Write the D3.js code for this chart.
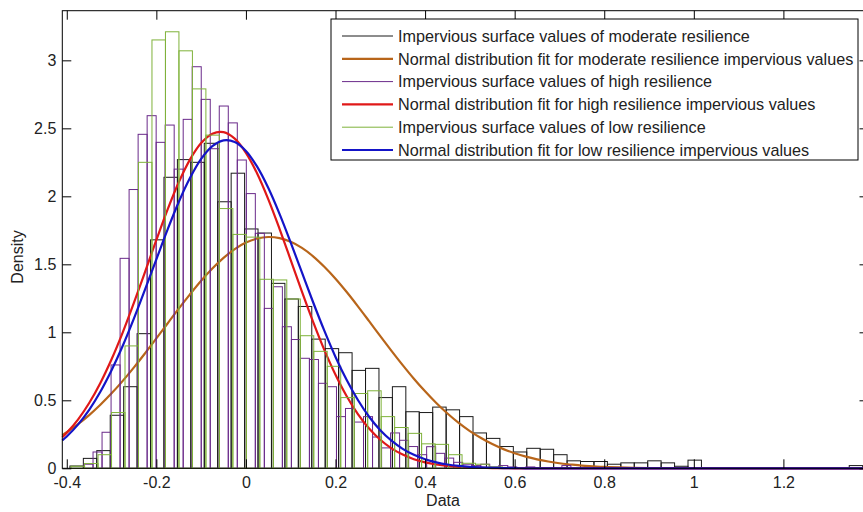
<!DOCTYPE html>
<html>
<head>
<meta charset="utf-8">
<script src="https://cdn.jsdelivr.net/npm/d3@7"></script>
<style>
  body { margin: 0; background: #fff; }
  svg { display: block; font-family: "Liberation Sans", Arial, Helvetica, sans-serif; }
</style>
</head>
<body>
<div id="chart"></div>
<script>
// Histogram bins (density)
var moderateStart = -0.393, moderateWidth = 0.0300;
var moderateDensity = [0.017, 0.073, 0.13, 0.39, 0.60, 0.99, 1.68, 2.14, 2.27, 2.25,
    2.39, 1.96, 2.17, 1.76, 1.73, 1.36, 1.245, 1.19, 0.95, 0.88,
    0.85, 0.72, 0.735, 0.52, 0.60, 0.416, 0.41, 0.45, 0.43, 0.38,
    0.26, 0.22, 0.16, 0.12, 0.147, 0.14, 0.10, 0.055, 0.05, 0.05,
    0.03, 0.04, 0.04, 0.055, 0.04, 0.015, 0.06, 0, 0, 0,
    0, 0, 0, 0, 0, 0, 0, 0, 0.02];

var highStart = -0.3615, highWidth = 0.02013;
var highDensity = [0.03, 0.12, 0.265, 0.76, 1.544, 2.05, 2.456, 2.593, 2.397, 2.524,
    2.20, 2.566, 2.953, 2.713, 2.35, 2.664, 2.54, 2.267, 2.02, 1.728,
    1.176, 1.335, 1.041, 0.947, 0.809, 0.80, 0.625, 0.60, 0.38, 0.44,
    0.34, 0.38, 0.23, 0.15, 0.26, 0.206, 0.16, 0.10, 0.159, 0.11,
    0.075, 0.044, 0.03, 0.02, 0.03, 0.01, 0.02, 0.01, 0, 0.01,
    0, 0, 0, 0.02];

var lowStart = -0.3904, lowWidth = 0.0301;
var lowDensity = [0.015, 0.035, 0.10, 0.41, 0.90, 2.25, 3.15, 3.21, 3.07, 2.79,
    2.45, 1.91, 1.72, 1.70, 1.39, 1.385, 1.245, 0.975, 0.86, 0.75,
    0.52, 0.55, 0.57, 0.38, 0.30, 0.257, 0.18, 0.176, 0.10, 0.037,
    0.03, 0.01];

// Normal fit curves
var fitX = [-0.41, -0.4, -0.375, -0.35, -0.325, -0.3, -0.275, -0.25, -0.225, -0.2,
    -0.175, -0.15, -0.125, -0.1, -0.075, -0.05, -0.025, 0, 0.025, 0.05,
    0.075, 0.1, 0.125, 0.15, 0.175, 0.2, 0.225, 0.25, 0.275, 0.3,
    0.325, 0.35, 0.375, 0.4, 0.425, 0.45, 0.475, 0.5, 0.525, 0.55,
    0.575, 0.6, 0.625, 0.65, 0.675, 0.7, 0.725, 0.75, 0.775, 0.8,
    0.85, 0.9, 1.0, 1.1, 1.2, 1.3, 1.39];
var fitModerate = [0.244, 0.265, 0.324, 0.391, 0.467, 0.551, 0.643, 0.742, 0.847, 0.955,
    1.065, 1.174, 1.279, 1.379, 1.469, 1.547, 1.612, 1.660, 1.690, 1.701,
    1.693, 1.666, 1.621, 1.559, 1.482, 1.394, 1.296, 1.191, 1.082, 0.972,
    0.864, 0.759, 0.659, 0.566, 0.480, 0.403, 0.334, 0.274, 0.223, 0.178,
    0.141, 0.111, 0.086, 0.066, 0.050, 0.037, 0.028, 0.020, 0.015, 0.010,
    0.005, 0.002, 0.001, 0, 0, 0, 0];
var fitHigh = [0.228, 0.261, 0.358, 0.480, 0.628, 0.802, 1.000, 1.218, 1.447, 1.679,
    1.902, 2.103, 2.270, 2.392, 2.461, 2.472, 2.424, 2.320, 2.168, 1.978,
    1.761, 1.531, 1.299, 1.077, 0.871, 0.688, 0.530, 0.399, 0.293, 0.210,
    0.147, 0.101, 0.067, 0.044, 0.028, 0.017, 0.010, 0.006, 0.004, 0.002,
    0.001, 0, 0, 0, 0, 0, 0, 0, 0, 0,
    0, 0, 0, 0, 0, 0, 0];
var fitLow = [0.205, 0.234, 0.321, 0.430, 0.563, 0.721, 0.901, 1.102, 1.317, 1.537,
    1.755, 1.958, 2.134, 2.275, 2.369, 2.412, 2.400, 2.334, 2.218, 2.061,
    1.871, 1.660, 1.440, 1.221, 1.012, 0.819, 0.649, 0.502, 0.379, 0.280,
    0.203, 0.143, 0.099, 0.067, 0.044, 0.028, 0.018, 0.011, 0.007, 0.004,
    0.002, 0.001, 0, 0, 0, 0, 0, 0, 0, 0,
    0, 0, 0, 0, 0, 0, 0];

var xTicks = [-0.4, -0.2, 0, 0.2, 0.4, 0.6, 0.8, 1, 1.2];
var yTicks = [0, 0.5, 1, 1.5, 2, 2.5, 3];

var legendLabels = [
    "Impervious surface values of moderate resilience",
    "Normal distribution fit for moderate resilience impervious values",
    "Impervious surface values of high resilience",
    "Normal distribution fit for high resilience impervious values",
    "Impervious surface values of low resilience",
    "Normal distribution fit for low resilience impervious values"
];

var width = 863, height = 512;
var colors = {
    moderate: "#1a1a1a", moderateFit: "#b8651a",
    high: "#6a2a8a", highFit: "#e01818",
    low: "#7fb23a", lowFit: "#1414c8"
};

var svg = d3.select("#chart").append("svg")
    .attr("width", width)
    .attr("height", height);

svg.append("rect").attr("width", width).attr("height", height).attr("fill", "#fff");

var x = d3.scaleLinear().domain([-0.41, 1.39]).range([62.3, 868.5]);
var y = d3.scaleLinear().domain([0, 3.365]).range([468.3, 10.7]);

var plot = svg.append("g");

// histograms drawn as outlined bars
function drawHist(values, start, w, color) {
    var bins = values.map(function(v, i) {
        return { x0: start + i * w, x1: start + (i + 1) * w, v: v };
    }).filter(function(d) { return d.v > 0; });

    plot.append("g").selectAll("rect")
        .data(bins)
        .enter().append("rect")
        .attr("x", function(d) { return x(d.x0); })
        .attr("y", function(d) { return y(d.v); })
        .attr("width", function(d) { return x(d.x1) - x(d.x0); })
        .attr("height", function(d) { return y(0) - y(d.v); })
        .attr("fill", "none")
        .attr("stroke", color)
        .attr("stroke-width", 1);
}

function drawFit(values, color) {
    var line = d3.line()
        .x(function(d, i) { return x(fitX[i]); })
        .y(function(d) { return y(d); })
        .curve(d3.curveCatmullRom);
    plot.append("path")
        .datum(values)
        .attr("fill", "none")
        .attr("stroke", color)
        .attr("stroke-width", 2.2)
        .attr("d", line);
}

drawHist(moderateDensity, moderateStart, moderateWidth, colors.moderate);
drawFit(fitModerate, colors.moderateFit);
drawHist(highDensity, highStart, highWidth, colors.high);
drawFit(fitHigh, colors.highFit);
drawHist(lowDensity, lowStart, lowWidth, colors.low);
drawFit(fitLow, colors.lowFit);

// axes box with inward ticks (MATLAB style)
var x0 = x.range()[0], x1 = x.range()[1], y0 = y.range()[0], y1 = y.range()[1];
var tickLen = 9;
var plain = function(d) { return String(d); };

var xAxisB = d3.axisBottom(x).tickValues(xTicks).tickSize(-tickLen).tickPadding(8).tickFormat(plain);
var xAxisT = d3.axisTop(x).tickValues(xTicks).tickSize(-tickLen).tickFormat("");
var yAxisL = d3.axisLeft(y).tickValues(yTicks).tickSize(-tickLen).tickPadding(6).tickFormat(plain);
var yAxisR = d3.axisRight(y).tickValues(yTicks).tickSize(-tickLen).tickFormat("");

function styleAxis(g) {
    g.select(".domain").remove();
    g.selectAll(".tick line").attr("stroke", "#000");
    g.selectAll(".tick text").attr("fill", "#222").style("font-size", "16px");
}

svg.append("g").attr("transform", "translate(0," + y0 + ")").call(xAxisB).call(styleAxis)
    .selectAll(".tick text").attr("dy", "0.75em");
svg.append("g").attr("transform", "translate(0," + y1 + ")").call(xAxisT).call(styleAxis);
svg.append("g").attr("transform", "translate(" + x0 + ",0)").call(yAxisL).call(styleAxis);
svg.append("g").attr("transform", "translate(" + x1 + ",0)").call(yAxisR).call(styleAxis);

svg.append("rect")
    .attr("x", x0).attr("y", y1)
    .attr("width", x1 - x0).attr("height", y0 - y1)
    .attr("fill", "none").attr("stroke", "#000").attr("stroke-width", 1);

// axis labels
svg.append("text")
    .attr("x", 443).attr("y", 506)
    .attr("text-anchor", "middle")
    .attr("fill", "#222")
    .style("font-size", "16px")
    .text("Data");

svg.append("text")
    .attr("transform", "translate(23,257) rotate(-90)")
    .attr("text-anchor", "middle")
    .attr("fill", "#222")
    .style("font-size", "16px")
    .text("Density");

// legend
var legendColors = [colors.moderate, colors.moderateFit, colors.high, colors.highFit, colors.low, colors.lowFit];
var legendWidths = [1, 2.2, 1, 2.2, 1, 2.2];
var legend = svg.append("g").attr("transform", "translate(331,19)");

legend.append("rect")
    .attr("width", 527).attr("height", 141)
    .attr("fill", "#fff").attr("stroke", "#000").attr("stroke-width", 1);

var rows = legend.selectAll("g.row")
    .data(legendLabels)
    .enter().append("g")
    .attr("class", "row")
    .attr("transform", function(d, i) { return "translate(0," + (17 + i * 22.8) + ")"; });

rows.append("line")
    .attr("x1", 11).attr("x2", 62)
    .attr("stroke", function(d, i) { return legendColors[i]; })
    .attr("stroke-width", function(d, i) { return legendWidths[i]; });

rows.append("text")
    .attr("x", 67).attr("dy", "0.36em")
    .attr("fill", "#222")
    .style("font-size", "16.2px")
    .text(function(d) { return d; });
</script>
</body>
</html>
